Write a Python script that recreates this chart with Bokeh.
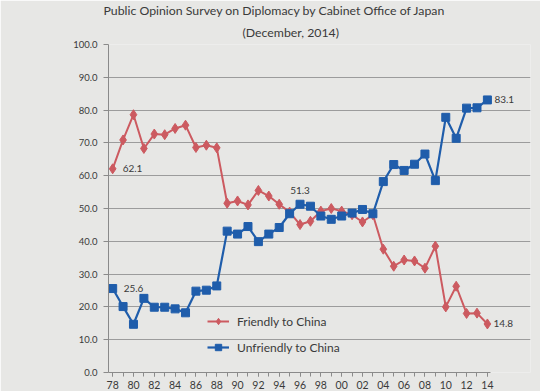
from bokeh.plotting import figure
from bokeh.models import Title, Legend, LegendItem, FixedTicker, Range1d
from bokeh.core.properties import value
from bokeh.embed import file_html
from bokeh.resources import INLINE

years = [1978, 1979, 1980, 1981, 1982, 1983, 1984, 1985, 1986, 1987, 1988, 1989,
         1990, 1991, 1992, 1993, 1994, 1995, 1996, 1997, 1998, 1999, 2000, 2001,
         2002, 2003, 2004, 2005, 2006, 2007, 2008, 2009, 2010, 2011, 2012, 2013, 2014]
friendly = [62.1, 70.9, 78.6, 68.3, 72.7, 72.5, 74.4, 75.4, 68.6, 69.3, 68.5, 51.6,
            52.3, 51.1, 55.5, 53.8, 51.3, 48.9, 45.1, 46.1, 49.2, 50.0, 49.2, 48.1,
            45.9, 48.1, 37.6, 32.4, 34.3, 34.0, 31.8, 38.5, 20.0, 26.3, 18.0, 18.1, 14.8]
unfriendly = [25.6, 20.1, 14.7, 22.6, 19.9, 19.9, 19.4, 18.2, 24.8, 25.1, 26.4, 43.1,
              42.2, 44.5, 39.9, 42.2, 44.2, 48.4, 51.3, 50.7, 47.7, 46.7, 47.7, 48.6,
              49.7, 48.4, 58.2, 63.4, 61.6, 63.5, 66.6, 58.5, 77.8, 71.4, 80.6, 80.7, 83.1]
y_ticks = [0, 10, 20, 30, 40, 50, 60, 70, 80, 90, 100]
x_ticks = [1978, 1980, 1982, 1984, 1986, 1988, 1990, 1992, 1994, 1996, 1998, 2000,
           2002, 2004, 2006, 2008, 2010, 2012, 2014]
x_tick_labels = ["78", "80", "82", "84", "86", "88", "90", "92", "94", "96", "98", "00",
                 "02", "04", "06", "08", "10", "12", "14"]
title_main = "Public Opinion Survey on Diplomacy by Cabinet Office of Japan"
title_sub = "(December, 2014)"
series_names = ["Friendly to China", "Unfriendly to China"]

FONT = "Lato"
TXT = "#3a3a3a"
BG = "#e7e7e5"
RED = "#cc5a60"
BLUE = "#1f5dab"

X0, X1 = 1977.6, 2014.3          # extent of the plotted axis/grid
X_VIEW_END = 2018.14             # room on the right for the end labels

p = figure(width=540, height=391, output_backend="svg", toolbar_location=None,
           x_range=Range1d(X0, X_VIEW_END), y_range=Range1d(0, 100),
           min_border_left=108, min_border_right=10, min_border_top=0, min_border_bottom=0)
p.background_fill_color = BG
p.border_fill_color = BG
p.outline_line_color = None

p.add_layout(Title(text=title_sub, align="left", offset=134, text_font=FONT,
                   text_font_size="12.3px", text_font_style="normal", text_color=TXT,
                   standoff=9), "above")
p.add_layout(Title(text=title_main, align="left", offset=-5, text_font=FONT,
                   text_font_size="12.3px", text_font_style="normal", text_color=TXT,
                   standoff=1), "above")

# axes
p.yaxis.ticker = FixedTicker(ticks=y_ticks)
p.yaxis.major_label_overrides = {t: f"{t:.1f}" for t in y_ticks}
p.yaxis.major_label_text_font = FONT
p.yaxis.major_label_text_font_size = "9.5px"
p.yaxis.major_label_text_color = TXT
p.yaxis.axis_line_color = "#8a8a8a"
p.yaxis.major_tick_line_color = "#8a8a8a"
p.yaxis.major_tick_out = 5
p.yaxis.major_tick_in = 0
p.yaxis.minor_tick_line_color = None
p.yaxis.major_label_standoff = 6

p.xaxis.ticker = FixedTicker(ticks=x_ticks, minor_ticks=years)
p.xaxis.bounds = (X0, X1)
p.xaxis.major_label_overrides = dict(zip(x_ticks, x_tick_labels))
p.xaxis.major_label_text_font = FONT
p.xaxis.major_label_text_font_size = "10.5px"
p.xaxis.major_label_text_color = TXT
p.xaxis.axis_line_color = "#8a8a8a"
p.xaxis.major_tick_line_color = "#8a8a8a"
p.xaxis.minor_tick_line_color = "#8a8a8a"
p.xaxis.major_tick_out = 4
p.xaxis.major_tick_in = 0
p.xaxis.minor_tick_out = 4
p.xaxis.minor_tick_in = 0
p.xaxis.major_label_standoff = 4
p.xaxis.axis_label_standoff = 0

p.xgrid.grid_line_color = None
p.ygrid.grid_line_color = "#9c9c9c"
p.ygrid.grid_line_width = 1
p.ygrid.bounds = (X0, X1)

# series
r1 = p.line(years, friendly, line_color=RED, line_width=2)
s1 = p.scatter(years, friendly, marker="diamond", size=10, fill_color=RED, line_color=RED)
r2 = p.line(years, unfriendly, line_color=BLUE, line_width=2.2)
s2 = p.scatter(years, unfriendly, marker="square", size=8, fill_color=BLUE, line_color=BLUE)

# data labels
lab_kw = dict(text_font=value(FONT), text_font_size=value("10px"), text_color=TXT,
              text_baseline="middle")
p.text(x=[years[0]], y=[friendly[0]], text=[f"{friendly[0]:.1f}"], x_offset=10, y_offset=0, **lab_kw)
p.text(x=[years[0]], y=[unfriendly[0]], text=[f"{unfriendly[0]:.1f}"], x_offset=11, y_offset=0, **lab_kw)
i96 = years.index(1996)
p.text(x=[years[i96]], y=[unfriendly[i96]], text=[f"{unfriendly[i96]:.1f}"], x_offset=0, y_offset=-14,
       text_align="center", **lab_kw)
p.text(x=[years[-1]], y=[unfriendly[-1]], text=[f"{unfriendly[-1]:.1f}"], x_offset=7, **lab_kw)
p.text(x=[years[-1]], y=[friendly[-1]], text=[f"{friendly[-1]:.1f}"], x_offset=6, **lab_kw)

legend = Legend(items=[LegendItem(label=series_names[0], renderers=[r1, s1]),
                       LegendItem(label=series_names[1], renderers=[r2, s2])],
                location=(99, 17), border_line_color=None, background_fill_alpha=0,
                label_text_font=FONT, label_text_font_size="12px", label_text_color=TXT,
                glyph_width=22, glyph_height=16, spacing=10, label_standoff=8,
                padding=0, margin=0)
p.add_layout(legend, "center")

open("out.html", "w").write(file_html(p, INLINE))
